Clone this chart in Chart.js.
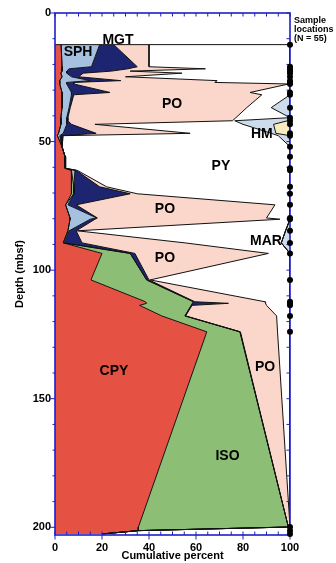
<!DOCTYPE html>
<html>
<head>
<meta charset="utf-8">
<script src="https://cdn.jsdelivr.net/npm/chart.js@4.4.1/dist/chart.umd.min.js"></script>
<style>
  html, body { margin: 0; padding: 0; background: #fff; }
</style>
</head>
<body>
<canvas id="chart" width="336" height="563"></canvas>
<script>
// sample depths (mbsf) and mineral percentages at each sample
const depth = [12.3, 20.9, 21.7, 22.6, 23.4, 24.8, 26.3, 27.0, 27.6, 30.9,
  31.8, 36.8, 40.7, 41.9, 43.3, 46.8, 47.7, 52.0, 55.9, 60.4,
  61.2, 67.6, 70.3, 74.6, 79.7, 80.2, 84.7, 89.4, 93.5, 103.8,
  112.3, 112.9, 113.7, 117.8, 124.0, 199.9, 201.3, 202.6];

const cpy = [2.6, 3, 3, 3, 2.5, 3, 2, 2, 2, 3,
  3, 3, 2.5, 2.5, 2.5, 1.5, 1, 3, 4.3, 4.3,
  7, 7, 7, 4.5, 6.4, 6.4, 5.5, 3.5, 20, 15.3,
  38.5, 39, 36, 45.4, 64.6, 35.5, 35.4, 20];
const iso = [0, 0, 0, 0, 0, 0, 0, 0, 0, 0,
  0, 0, 0, 0, 0, 0, 0, 0, 0, 0,
  0, 1, 1, 0, 0, 0, 0, 0, 12, 23.7,
  20.5, 19.5, 22, 9.9, 14.1, 63.8, 0, 0];
const sph = [16.4, 12.5, 3, 2, 2.5, 4, 13, 3, 3, 4,
  4, 3, 2.5, 2.5, 2.5, 2, 1, 0, 0, 0.2,
  1.5, 0, 0, 1, 11.3, 8.6, 0.5, 0.5, 0, 0,
  0, 0, 0, 0, 0, 0, 0, 0];
const mgt = [6, 19.5, 25, 19, 7, 3, 13, 3, 3, 16.4,
  1, 0.5, 0.5, 0.5, 2, 14, 1, 0, 0, 0,
  0.5, 11, 24, 3.5, 0.3, 2, 3, 7.5, 2, 1,
  0.5, 15.3, 0.3, 0.3, 0.2, 0, 0, 0];
const po = [15, 5, 33, 8, 42, 20, 41, 60, 91.5, 59.6,
  80, 75.1, 71.5, 70, 10, 40, 0.5, 0, 0, 0,
  0.5, 3, 3, 84.6, 72, 78.7, 0.5, 43.8, 56.8, 0.5,
  29.9, 15.8, 31.7, 38.7, 15.8, 0.7, 0, 0];
const pyr = [60, 60, 36, 68, 46, 70, 31, 32, 0.5, 17,
  12, 10.4, 23, 1, 63, 34.5, 91.5, 97, 95.7, 95.5,
  90.5, 78, 65, 6.4, 10, 4.3, 88.6, 41, 9.2, 59.5,
  10.6, 10.4, 10, 5.7, 5.3, 0, 64.6, 80];
const hm = [0, 0, 0, 0, 0, 0, 0, 0, 0, 0,
  0, 8, 0, 22.5, 13, 2, 5, 0, 0, 0,
  0, 0, 0, 0, 0, 0, 0, 0, 0, 0,
  0, 0, 0, 0, 0, 0, 0, 0];
const oth = [0, 0, 0, 0, 0, 0, 0, 0, 0, 0,
  0, 0, 0, 1, 7, 6, 0, 0, 0, 0,
  0, 0, 0, 0, 0, 0, 0, 0, 0, 0,
  0, 0, 0, 0, 0, 0, 0, 0];
const mar = [0, 0, 0, 0, 0, 0, 0, 0, 0, 0,
  0, 0, 0, 0, 0, 0, 0, 0, 0, 0,
  0, 0, 0, 0, 0, 0, 1.9, 3.7, 0, 0,
  0, 0, 0, 0, 0, 0, 0, 0];

const minerals = [
  { name: 'CPY', values: cpy, color: '#e55244' },
  { name: 'ISO', values: iso, color: '#8cbe76' },
  { name: 'SPH', values: sph, color: '#a6c0e0' },
  { name: 'MGT', values: mgt, color: '#1d2470' },
  { name: 'PO',  values: po,  color: '#fad6cb' },
  { name: 'PY',  values: pyr, color: '#ffffff' },
  { name: 'HM',  values: hm,  color: '#cddcec' },
  { name: 'OTH', values: oth, color: '#f8ebc0' },
  { name: 'MAR', values: mar, color: '#cddcec' }
];

// where the mineral names sit (percent, depth)
const tags = [
  ['MGT', 26.8, 10.4], ['SPH', 9.8, 15.4], ['PO', 49.8, 35.3], ['HM', 88, 47],
  ['PY', 70.6, 59.4], ['PO', 46.8, 76.2], ['MAR', 89.8, 88.6], ['PO', 46.8, 95.2],
  ['CPY', 25.1, 139.2], ['PO', 89.4, 137.6], ['ISO', 73.4, 172.3]
];

const blue = '#1f1fc8';
Chart.defaults.font.family = '"Liberation Sans", Arial, sans-serif';
Chart.defaults.font.weight = 'bold';
Chart.defaults.color = '#000';

// running sum -> boundary line of each layer
let running = depth.map(() => 0);
const datasets = minerals.map((m, i) => {
  running = running.map((s, k) => s + m.values[k]);
  return {
    label: m.name,
    data: running.map((s, k) => ({ x: Math.min(s, 100), y: depth[k] })),
    backgroundColor: m.color,
    borderColor: '#111',
    borderWidth: m.name === 'MAR' ? 0 : 1,
    fill: i === 0 ? 'origin' : '-1',
    pointRadius: 0,
    order: 0
  };
});

// top edge of the sampled interval
datasets.push({
  label: 'top',
  data: [{ x: 0, y: depth[0] }, { x: 100, y: depth[0] }],
  borderColor: '#111', borderWidth: 1, fill: false, pointRadius: 0, order: 0
});

// sample locations
datasets.push({
  label: 'samples',
  data: depth.map(d => ({ x: 100, y: d })),
  showLine: false, fill: false,
  pointRadius: 3, pointBackgroundColor: '#000', pointBorderWidth: 0,
  clip: false, order: -1
});

const frame = {
  id: 'frame',
  afterDatasetDraw(chart, args) {
    if (args.index !== 0) return;
    const { ctx, chartArea: a, scales: { x, y } } = chart;
    ctx.save();
    ctx.strokeStyle = blue;
    ctx.lineWidth = 1.6;
    ctx.strokeRect(a.left, a.top, a.right - a.left, a.bottom - a.top);
    ctx.lineWidth = 1;
    ctx.beginPath();
    for (let v = 0; v <= 100; v += 5) {
      const px = x.getPixelForValue(v);
      ctx.moveTo(px, a.top); ctx.lineTo(px, a.top + 3.5);
      ctx.moveTo(px, a.bottom); ctx.lineTo(px, a.bottom - 3.5);
      if (v % 20 === 0) { ctx.moveTo(px, a.bottom); ctx.lineTo(px, a.bottom + 4.5); }
    }
    for (let v = 0; v <= 200; v += 10) {
      const py = y.getPixelForValue(v);
      ctx.moveTo(a.left, py); ctx.lineTo(a.left - (v % 50 ? 2.5 : 5), py);
      ctx.moveTo(a.right, py); ctx.lineTo(a.right - 3.5, py);
    }
    ctx.stroke();
    ctx.restore();
  },
  afterDraw(chart) {
    const { ctx, chartArea: a, scales: { x, y } } = chart;
    ctx.save();
    ctx.fillStyle = '#000';
    ctx.font = 'bold 14px "Liberation Sans", Arial, sans-serif';
    ctx.textAlign = 'center';
    ctx.textBaseline = 'middle';
    tags.forEach(([t, px, d]) => ctx.fillText(t, x.getPixelForValue(px), y.getPixelForValue(d)));
    ctx.font = 'bold 9px "Liberation Sans", Arial, sans-serif';
    ctx.textAlign = 'left';
    ctx.textBaseline = 'alphabetic';
    ['Sample', 'locations', '(N = 55)'].forEach((s, i) => ctx.fillText(s, a.right + 4, 23 + i * 9));
    ctx.restore();
  }
};

new Chart(document.getElementById('chart'), {
  type: 'line',
  data: { datasets },
  options: {
    responsive: false,
    animation: false,
    indexAxis: 'y',
    layout: { padding: { top: 13, right: 46, left: 0, bottom: 0 } },
    plugins: {
      legend: { display: false },
      tooltip: { enabled: false },
      filler: { drawTime: 'beforeDatasetsDraw' }
    },
    elements: { line: { tension: 0 } },
    scales: {
      x: {
        type: 'linear', min: 0, max: 100,
        grid: { display: false, drawTicks: false },
        border: { display: false },
        ticks: { stepSize: 20, padding: 6, font: { size: 11, weight: 'bold' } },
        title: { display: true, text: 'Cumulative percent', padding: 0, font: { size: 11, weight: 'bold' } },
        afterFit(s) { s.height = 28; }
      },
      y: {
        type: 'linear', reverse: true, min: 0, max: 203,
        grid: { display: false, drawTicks: false },
        border: { display: false },
        ticks: { stepSize: 50, padding: 4, includeBounds: false, font: { size: 11, weight: 'bold' } },
        title: { display: true, text: 'Depth (mbsf)', padding: { top: 13, bottom: 0 }, font: { size: 11, weight: 'bold' } },
        afterFit(s) { s.width = 55; }
      }
    }
  },
  plugins: [frame]
});
</script>
</body>
</html>
